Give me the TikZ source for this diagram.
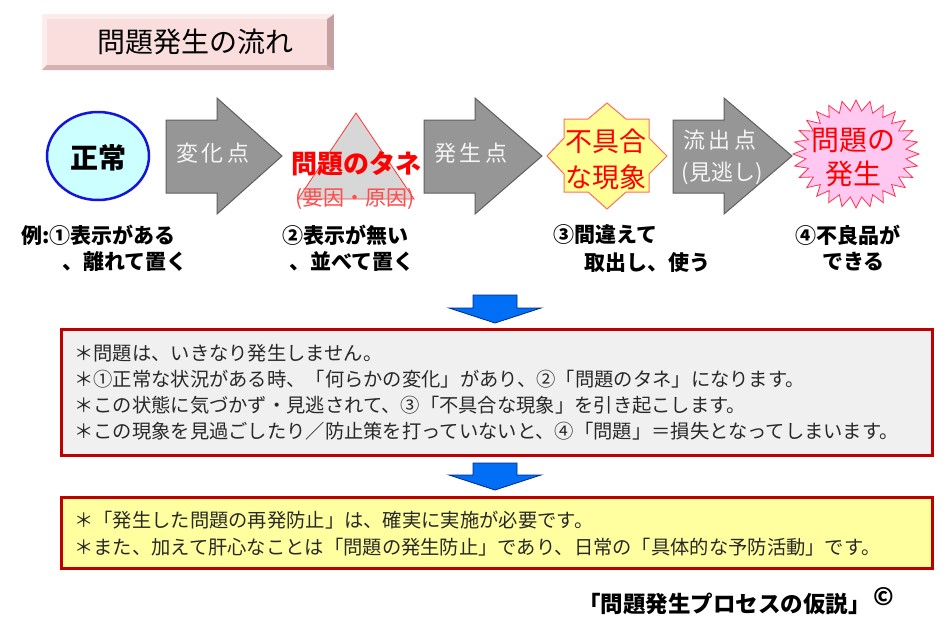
\documentclass[tikz,border=0pt]{standalone}
\usepackage{fontspec}
\setmainfont{Noto Sans CJK JP}
\newcommand\fsz[1]{\fontsize{#1}{#1}\selectfont}
\definecolor{titlepink}{RGB}{250,222,222}
\definecolor{titleedge}{RGB}{196,160,160}
\definecolor{titlelight}{RGB}{252,236,236}
\definecolor{arrgray}{RGB}{150,150,150}
\definecolor{arredge}{RGB}{95,95,95}
\definecolor{cyanfill}{RGB}{204,255,255}
\definecolor{ellblue}{RGB}{20,20,220}
\definecolor{trifill}{RGB}{215,215,215}
\definecolor{tanered}{RGB}{255,0,0}
\definecolor{staryellow}{RGB}{255,255,150}
\definecolor{staredge}{RGB}{255,110,90}
\definecolor{burstpink}{RGB}{255,200,240}
\definecolor{burstedge}{RGB}{255,50,80}
\definecolor{boxred}{RGB}{192,0,0}
\definecolor{boxgray}{RGB}{240,240,240}
\definecolor{boxyellow}{RGB}{255,255,160}
\definecolor{bodytext}{RGB}{40,40,40}
\definecolor{blueA}{RGB}{0,110,245}
\definecolor{blueE}{RGB}{0,40,140}
\begin{document}
\begin{tikzpicture}[x=1pt,y=-1pt,
  garrow/.style={fill=arrgray,draw=arredge,line width=1pt,line join=miter},
  arrtext/.style={text=white!92!gray,font=\fsz{22},inner sep=0pt},
  redtext/.style={font=\fsz{27},text=tanered,inner sep=0pt},
  lbl/.style={font=\fsz{21}\bfseries,inner sep=0pt,anchor=west},
  bodyline/.style={font=\fsz{19.3},text=bodytext,inner sep=0pt,anchor=west},
  notebox/.style={draw=boxred,line width=3pt},
  bluearr/.style={fill=blueA,draw=blueE,line width=0.8pt,line join=miter}]
\useasboundingbox (0,0) rectangle (946,624);
\fill[white] (0,0) rectangle (946,624);
% title box with bevel
\fill[titleedge] (42,14) rectangle (334,70);
\fill[titlelight] (42,14) -- (334,14) -- (327,19) -- (47,19) -- (47,65) -- (42,70) -- cycle;
\fill[titleedge!70!titlepink] (42,70) -- (47,65) -- (327,65) -- (334,70) -- cycle;
\fill[titlepink] (47,19) rectangle (327,65);
\node[font=\fsz{28},inner sep=0pt] (title) at (195,42) {問題発生の流れ};
% normal ellipse
\draw[fill=cyanfill,draw=ellblue,line width=2.5pt] (98,156) ellipse [x radius=51,y radius=44];
\node[font=\fsz{28}\bfseries,inner sep=0pt] (seijo) at (98,158) {正常};
% gray arrow 1
\draw[garrow] (166,120) -- (217,120) -- (217,98) -- (282,156) -- (217,214) -- (217,193) -- (166,193) -- cycle;
\node[arrtext] (henka) at (213,153) {変\,化\,点};
% triangle
\draw[fill=trifill,draw=tanered!80,line width=0.8pt] (356,113) -- (414,199) -- (298,199) -- cycle;
\node[redtext,font=\fsz{26}\bfseries] (tane) at (356,164) {問題のタネ};
\node[font=\fsz{21},text=tanered!70,inner sep=0pt] (youin) at (355,199) {(要因・原因)};
% gray arrow 2
\draw[garrow] (424,120) -- (475,120) -- (475,98) -- (542,156) -- (475,214) -- (475,193) -- (424,193) -- cycle;
\node[arrtext] (hassei) at (471,153) {発\,生\,点};
% 8-point star
\draw[fill=staryellow,draw=staredge,line width=1pt]
  (607,103) -- (626,119) -- (649,119) -- (649,138) -- (667,156) -- (649,174) -- (649,192)
  -- (626,192) -- (607,209) -- (588,192) -- (564,192) -- (564,174) -- (547,156)
  -- (564,138) -- (564,119) -- (588,119) -- cycle;
\node[redtext] (fugu1) at (606,141) {不具合};
\node[redtext] (fugu2) at (606,177) {な現象};
% gray arrow 3
\draw[garrow] (673,120) -- (724,120) -- (724,98) -- (792,156) -- (724,214) -- (724,193) -- (673,193) -- cycle;
\node[arrtext] (ryu1) at (720,140) {流\,出\,点};
\node[arrtext] (ryu2) at (722,173) {(見逃し)};
% starburst
\draw[fill=burstpink,draw=burstedge,line width=0.8pt,line join=miter]
  (919,154) \foreach \i [evaluate=\i as \r using {(mod(\i,2)==0)?1:0.8}, evaluate=\i as \a using {\i*(360/56)}] in {1,...,55}
  { -- ({856+63*\r*cos(\a)},{154+54*\r*sin(\a)}) } -- cycle;
\node[redtext,font=\fsz{28}] (mon1) at (853,140) {問題の};
\node[redtext,font=\fsz{28}] (mon2) at (853,174) {発生};
% labels
\node[lbl] (l1a) at (21,235) {例:①表示がある};
\node[lbl] (l1b) at (62,262) {、離れて置く};
\node[lbl] (l2a) at (282,235) {②表示が無い};
\node[lbl] (l2b) at (289,262) {、並べて置く};
\node[lbl] (l3a) at (553,235) {③間違えて};
\node[lbl] (l3b) at (584,262) {取出し、使う};
\node[lbl] (l4a) at (795,235) {④不良品が};
\node[lbl] (l4b) at (822,262) {できる};
% blue arrow 1
\draw[bluearr] (473,295) -- (517,295) -- (517,308) -- (541,308) -- (495,323) -- (449,308) -- (473,308) -- cycle;
% box 1
\draw[notebox,fill=boxgray] (61,329) rectangle (932,455);
\node[bodyline] (b1) at (74,353) {＊問題は、いきなり発生しません。};
\node[bodyline] (b2) at (74,379) {＊①正常な状況がある時、「何らかの変化」があり、②「問題のタネ」になります。};
\node[bodyline] (b3) at (74,405) {＊この状態に気づかず・見逃されて、③「不具合な現象」を引き起こします。};
\node[bodyline] (b4) at (74,431) {＊この現象を見過ごしたり／防止策を打っていないと、④「問題」＝損失となってしまいます。};
% blue arrow 2
\draw[bluearr] (473,463) -- (517,463) -- (517,475) -- (541,475) -- (495,490) -- (449,475) -- (473,475) -- cycle;
% box 2
\draw[notebox,fill=boxyellow] (61,497) rectangle (932,568);
\node[bodyline] (c1) at (74,520) {＊「発生した問題の再発防止」は、確実に実施が必要です。};
\node[bodyline] (c2) at (74,547) {＊また、加えて肝心なことは「問題の発生防止」であり、日常の「具体的な予防活動」です。};
% footer
\node[font=\fsz{22.5}\bfseries,inner sep=0pt,anchor=west] (foot) at (578,604) {「問題発生プロセスの仮説」};
\node[font=\fsz{24}\bfseries,inner sep=0pt] (copy) at (884,597) {©};
\end{tikzpicture}
\end{document}
